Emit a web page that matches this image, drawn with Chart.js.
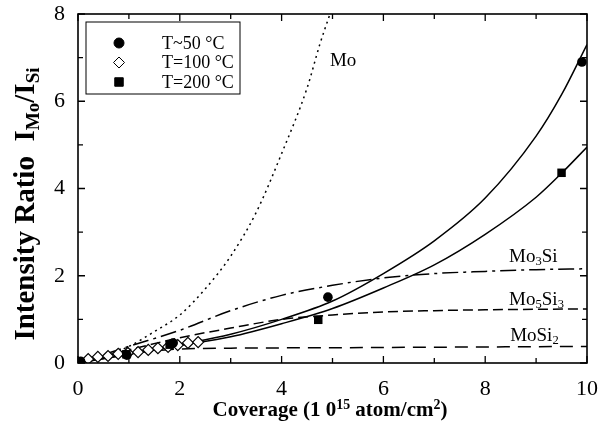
<!DOCTYPE html>
<html>
<head>
<meta charset="utf-8">
<script src="https://cdn.jsdelivr.net/npm/chart.js@4.4.0/dist/chart.umd.min.js"></script>
<style>
  html, body { margin: 0; padding: 0; background: #fff; }
</style>
</head>
<body>
<canvas id="myChart" width="608" height="425"></canvas>
<script>
// axis ticks
const xTicks = [0, 2, 4, 6, 8, 10];
const yTicks = [0, 2, 4, 6, 8];
const xMinor = [1, 3, 5, 7, 9];
const yMinor = [1, 3, 5, 7];

// model curves
const moX = [0, 0.5, 1, 1.5, 2, 2.5, 3, 3.5, 4, 4.5, 4.75, 4.95];
const moY = [0, 0.15, 0.38, 0.72, 1.1, 1.7, 2.45, 3.45, 4.8, 6.3, 7.3, 8.0];
const mo3SiX = [0, 1, 2, 3, 4, 5, 6, 7, 8, 9, 10];
const mo3SiY = [0, 0.38, 0.75, 1.2, 1.55, 1.78, 1.95, 2.05, 2.1, 2.14, 2.16];
const mo5Si3X = [0, 1, 2, 3, 4, 5, 6, 7, 8, 10];
const mo5Si3Y = [0, 0.3, 0.58, 0.8, 1.0, 1.1, 1.17, 1.2, 1.22, 1.24];
const moSi2X = [0, 0.5, 1, 1.5, 2, 3, 5, 10];
const moSi2Y = [0, 0.12, 0.22, 0.28, 0.32, 0.34, 0.35, 0.38];

// fits through the measured points
const fit50X = [0, 1, 2, 3, 4, 5, 6, 7, 8, 9, 9.5, 10];
const fit50Y = [0, 0.2, 0.42, 0.66, 1.0, 1.42, 2.05, 2.8, 3.78, 5.2, 6.15, 7.3];
const fit200X = [0, 1, 2, 3, 4, 5, 6, 7, 8, 9, 9.5, 10];
const fit200Y = [0, 0.2, 0.4, 0.6, 0.9, 1.25, 1.72, 2.25, 2.95, 3.8, 4.35, 4.95];

// measured points
const t50X = [0.05, 0.96, 1.87, 4.91, 9.9];
const t50Y = [0.04, 0.18, 0.46, 1.51, 6.9];
const t100X = [0.2, 0.39, 0.59, 0.79, 0.98, 1.18, 1.38, 1.57, 1.77, 1.96, 2.16, 2.36];
const t100Y = [0.09, 0.14, 0.16, 0.21, 0.23, 0.25, 0.3, 0.34, 0.37, 0.41, 0.46, 0.48];
const t200X = [0.95, 1.8, 4.72, 9.5];
const t200Y = [0.2, 0.42, 0.99, 4.36];

function pts(xs, ys) {
  return xs.map((x, i) => ({ x: x, y: ys[i] }));
}

const serif = "'Liberation Serif', 'Times New Roman', serif";

function curve(data, dash, order) {
  return {
    data: data, showLine: true, pointRadius: 0, borderColor: '#000',
    borderWidth: 1.5, borderDash: dash, cubicInterpolationMode: 'monotone',
    order: order
  };
}

// text runs with sub/superscripts
function richWidth(ctx, parts, size, weight) {
  let w = 0;
  parts.forEach(p => {
    ctx.font = weight + ' ' + (p.s ? size * 0.66 : size) + 'px ' + serif;
    w += ctx.measureText(p.t).width;
  });
  return w;
}
function drawRich(ctx, parts, x, y, size, weight) {
  parts.forEach(p => {
    const fs = p.s ? size * 0.66 : size;
    ctx.font = weight + ' ' + fs + 'px ' + serif;
    const dy = p.s === 'sub' ? size * 0.16 : (p.s === 'sup' ? -size * 0.34 : 0);
    ctx.fillText(p.t, x, y + dy);
    x += ctx.measureText(p.t).width;
  });
}

const curveLabels = [
  { x: 4.95, y: 6.8, parts: [{ t: 'Mo' }] },
  { x: 8.47, y: 2.32, parts: [{ t: 'Mo' }, { t: '3', s: 'sub' }, { t: 'Si' }] },
  { x: 8.47, y: 1.33, parts: [{ t: 'Mo' }, { t: '5', s: 'sub' }, { t: 'Si' }, { t: '3', s: 'sub' }] },
  { x: 8.49, y: 0.5, parts: [{ t: 'MoSi' }, { t: '2', s: 'sub' }] }
];

const legendItems = [
  { text: 'T~50 °C', style: 'circle', r: 5, fill: '#000' },
  { text: 'T=100 °C', style: 'rectRot', r: 5.5, fill: '#fff' },
  { text: 'T=200 °C', style: 'rect', r: 6, fill: '#000' }
];

const decor = {
  id: 'decor',
  afterDraw(chart) {
    const ctx = chart.ctx, a = chart.chartArea;
    const sx = chart.scales.x, sy = chart.scales.y;
    ctx.save();
    ctx.strokeStyle = '#000';
    ctx.fillStyle = '#000';

    // frame and inward ticks on all sides
    ctx.lineWidth = 1.6;
    ctx.strokeRect(a.left, a.top, a.right - a.left, a.bottom - a.top);
    ctx.lineWidth = 1.3;
    ctx.beginPath();
    [[xTicks, 7], [xMinor, 5]].forEach(([vals, len]) => vals.forEach(v => {
      const px = sx.getPixelForValue(v);
      ctx.moveTo(px, a.bottom); ctx.lineTo(px, a.bottom - len);
      ctx.moveTo(px, a.top); ctx.lineTo(px, a.top + len);
    }));
    [[yTicks, 7], [yMinor, 5]].forEach(([vals, len]) => vals.forEach(v => {
      const py = sy.getPixelForValue(v);
      ctx.moveTo(a.left, py); ctx.lineTo(a.left + len, py);
      ctx.moveTo(a.right, py); ctx.lineTo(a.right - len, py);
    }));
    ctx.stroke();

    // curve labels
    ctx.textBaseline = 'alphabetic';
    ctx.textAlign = 'left';
    curveLabels.forEach(l => {
      drawRich(ctx, l.parts, sx.getPixelForValue(l.x), sy.getPixelForValue(l.y), 19, '500');
    });

    // legend
    ctx.lineWidth = 1;
    ctx.strokeRect(86, 22, 154, 72);
    legendItems.forEach((it, i) => {
      const yy = 43 + i * 19.5;
      ctx.fillStyle = it.fill;
      ctx.strokeStyle = '#000';
      Chart.helpers.drawPoint(ctx, { pointStyle: it.style, radius: it.r, borderWidth: 1.2, rotation: 0 }, 119, yy);
      ctx.fillStyle = '#000';
      ctx.font = '18px ' + serif;
      ctx.textBaseline = 'middle';
      ctx.fillText(it.text, 162, yy + 1);
    });

    // axis titles
    ctx.textBaseline = 'alphabetic';
    const xt = [{ t: 'Coverage (1 0' }, { t: '15', s: 'sup' }, { t: ' atom/cm' }, { t: '2', s: 'sup' }, { t: ')' }];
    const xw = richWidth(ctx, xt, 21, 'bold');
    drawRich(ctx, xt, 330 - xw / 2, 416, 21, 'bold');

    const yt = [{ t: 'Intensity Ratio  I' }, { t: 'Mo', s: 'sub' }, { t: '/I' }, { t: 'Si', s: 'sub' }];
    const yw = richWidth(ctx, yt, 29, 'bold');
    ctx.translate(34, 204);
    ctx.rotate(-Math.PI / 2);
    drawRich(ctx, yt, -yw / 2, 0, 29, 'bold');
    ctx.restore();
  }
};

const config = {
  type: 'scatter',
  data: {
    datasets: [
      curve(pts(moX, moY), [2, 4], 5),
      curve(pts(mo3SiX, mo3SiY), [16, 5, 3, 5], 5),
      curve(pts(mo5Si3X, mo5Si3Y), [10, 5], 5),
      curve(pts(moSi2X, moSi2Y), [13, 8], 5),
      curve(pts(fit50X, fit50Y), [], 4),
      curve(pts(fit200X, fit200Y), [], 4),
      { data: pts(t100X, t100Y), pointStyle: 'rectRot', pointRadius: 5.5, pointBackgroundColor: '#fff',
        pointBorderColor: '#000', pointBorderWidth: 1.2, order: 3 },
      { data: pts(t200X, t200Y), pointStyle: 'rect', pointRadius: 6, pointBackgroundColor: '#000',
        pointBorderColor: '#000', pointBorderWidth: 0, order: 2 },
      { data: pts(t50X, t50Y), pointStyle: 'circle', pointRadius: 4.8, pointBackgroundColor: '#000',
        pointBorderColor: '#000', pointBorderWidth: 0, order: 1 }
    ]
  },
  options: {
    responsive: false,
    animation: false,
    layout: { padding: { left: 48, top: 14, right: 21, bottom: 0 } },
    plugins: { legend: { display: false }, tooltip: { enabled: false } },
    scales: {
      x: {
        type: 'linear', min: 0, max: 10,
        afterBuildTicks: s => { s.ticks = xTicks.map(v => ({ value: v })); },
        afterFit: s => { s.height = 62; s.paddingLeft = 0; s.paddingRight = 0; },
        grid: { display: false, drawTicks: false }, border: { display: false },
        ticks: { color: '#000', padding: 13, font: { family: serif, size: 22 } }
      },
      y: {
        type: 'linear', min: 0, max: 8,
        afterBuildTicks: s => { s.ticks = yTicks.map(v => ({ value: v })); },
        afterFit: s => { s.width = 30; s.paddingTop = 0; s.paddingBottom = 0; },
        grid: { display: false, drawTicks: false }, border: { display: false },
        ticks: { color: '#000', padding: 13, font: { family: serif, size: 22 } }
      }
    }
  },
  plugins: [decor]
};

var myChart = new Chart(document.getElementById('myChart'), config);
</script>
</body>
</html>
